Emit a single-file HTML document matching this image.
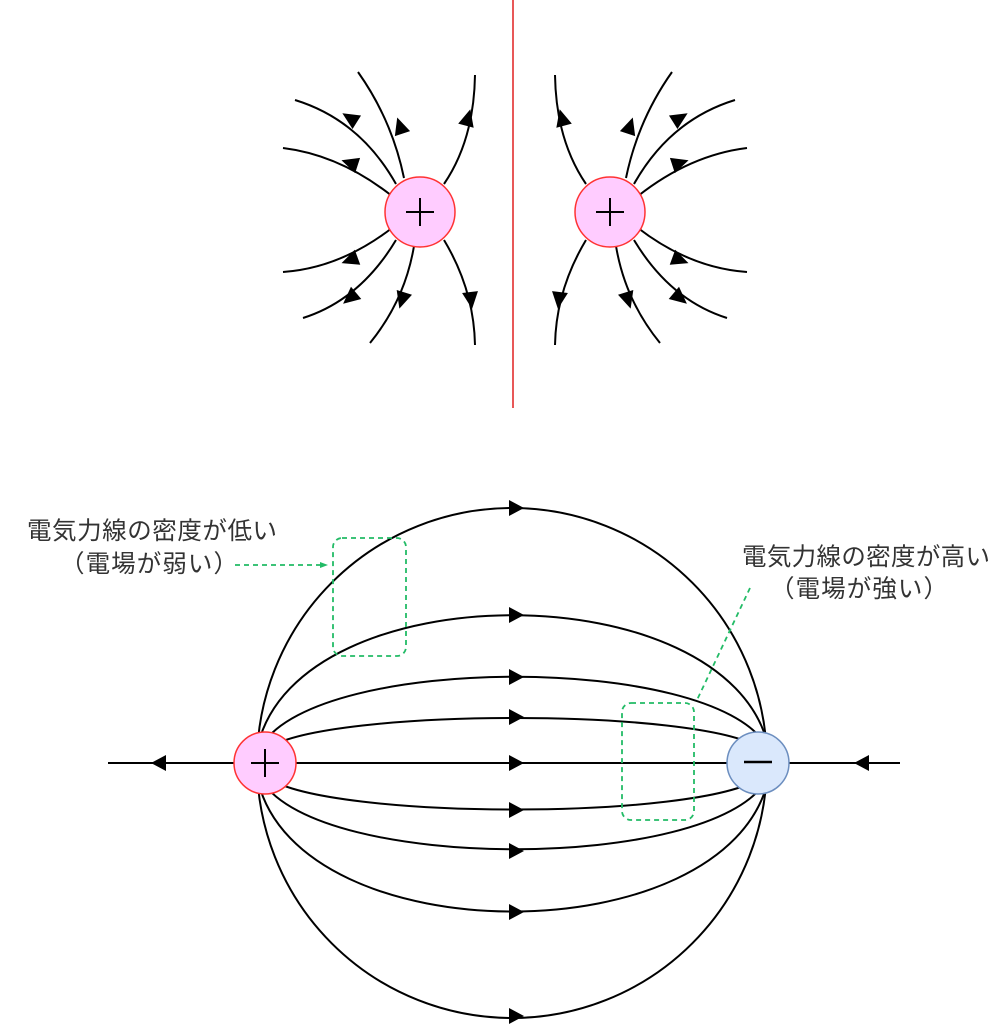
<!DOCTYPE html>
<html><head><meta charset="utf-8"><style>
body{margin:0;background:#fff;}
svg{display:block;}
text{font-family:"Liberation Sans","Noto Sans CJK JP",sans-serif;font-size:24.5px;fill:#333;}
</style></head><body>
<svg width="1007" height="1024" viewBox="0 0 1007 1024" xmlns="http://www.w3.org/2000/svg">
<defs>
<g id="half">
  <g fill="none" stroke="#000" stroke-width="2">
    <path d="M404,178 Q392,120 358,72"/>
    <path d="M396,184 Q360,120 295,100"/>
    <path d="M392,196 Q340,155 283,148"/>
    <path d="M444,184 Q474,140 475,75"/>
    <path d="M392,228 Q340,268 283,272"/>
    <path d="M396,240 Q360,300 303,318"/>
    <path d="M414,246 Q405,300 370,343"/>
    <path d="M444,240 Q474,290 475,345"/>
  </g>
  <g fill="#000">
    <polygon points="9,0 -8,-8 -8,8" transform="translate(400,126) rotate(-108)"/>
    <polygon points="9,0 -8,-8 -8,8" transform="translate(350,118) rotate(-148)"/>
    <polygon points="9,0 -8,-8 -8,8" transform="translate(350,163) rotate(-162)"/>
    <polygon points="9,0 -8,-8 -8,8" transform="translate(468,118) rotate(-75)"/>
    <polygon points="9,0 -8,-8 -8,8" transform="translate(350,260) rotate(160)"/>
    <polygon points="9,0 -8,-8 -8,8" transform="translate(350,298) rotate(140)"/>
    <polygon points="9,0 -8,-8 -8,8" transform="translate(402,300) rotate(107)"/>
    <polygon points="9,0 -8,-8 -8,8" transform="translate(471,300) rotate(83)"/>
  </g>
  <circle cx="420" cy="212" r="35" fill="#ffccff" stroke="#ff3333" stroke-width="1.5"/>
  <path d="M406,212 H434 M420,198 V226" stroke="#000" stroke-width="2"/>
</g>
</defs>
<use href="#half"/>
<g transform="translate(1030,0) scale(-1,1)"><use href="#half"/></g>
<line x1="513" y1="0" x2="513" y2="408" stroke="#e02020" stroke-width="1.5"/>

<g fill="none" stroke="#000" stroke-width="2">
  <line x1="108" y1="763" x2="900" y2="763"/>
  <circle cx="512" cy="763" r="255"/>
  <path d="M258,745 C300,572 725,572 768,745"/>
  <path d="M262,745 C320,654 710,654 766,745"/>
  <path d="M268,748 C330,708 700,708 760,748"/>
  <path d="M262,781 C320,872 710,872 766,781"/>
  <path d="M258,781 C300,955 725,955 768,781"/>
  <path d="M268,778 C330,820 700,820 760,778"/>
</g>
<g fill="#000">
  <polygon points="8,0 -7,-8 -7,8" transform="translate(516,508)"/>
  <polygon points="8,0 -7,-8 -7,8" transform="translate(516,615)"/>
  <polygon points="8,0 -7,-8 -7,8" transform="translate(516,677)"/>
  <polygon points="8,0 -7,-8 -7,8" transform="translate(516,717)"/>
  <polygon points="8,0 -7,-8 -7,8" transform="translate(516,763)"/>
  <polygon points="8,0 -7,-8 -7,8" transform="translate(516,810)"/>
  <polygon points="8,0 -7,-8 -7,8" transform="translate(516,851)"/>
  <polygon points="8,0 -7,-8 -7,8" transform="translate(516,912)"/>
  <polygon points="8,0 -7,-8 -7,8" transform="translate(516,1016)"/>
  <polygon points="8,0 -7,-8 -7,8" transform="translate(159,763) rotate(180)"/>
  <polygon points="8,0 -7,-8 -7,8" transform="translate(862,763) rotate(180)"/>
</g>
<circle cx="265" cy="763" r="31" fill="#ffccff" stroke="#ff3333" stroke-width="1.5"/>
<path d="M251,763 H279 M265,749 V777" stroke="#000" stroke-width="2"/>
<circle cx="758" cy="763" r="31" fill="#dae8fc" stroke="#6c8ebf" stroke-width="1.5"/>
<path d="M744,762 H772" stroke="#000" stroke-width="2.5"/>

<g fill="none" stroke="#22bb66" stroke-width="1.8" stroke-dasharray="5,4">
  <rect x="333" y="538" width="73" height="118" rx="9"/>
  <rect x="622" y="703" width="72" height="117" rx="9"/>
  <line x1="235" y1="565" x2="322" y2="565"/>
  <line x1="750" y1="588" x2="697" y2="700"/>
</g>
<polygon points="328,565 320,562 320,568" fill="#22bb66"/>

<text x="27" y="539" textLength="250">電気力線の密度が低い</text>
<text x="60" y="572" textLength="178">（電場が弱い）</text>
<text x="742" y="565" textLength="248">電気力線の密度が高い</text>
<text x="770" y="597" textLength="178">（電場が強い）</text>
</svg>
</body></html>
